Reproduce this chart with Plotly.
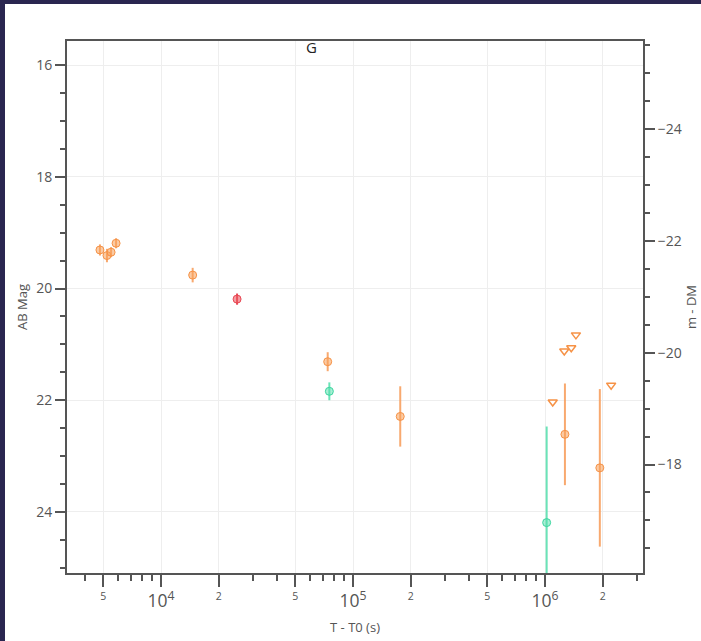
import plotly.graph_objects as go

# ---- data (T - T0 in seconds, AB magnitude, 1-sigma error) ----
orange_t = [4808, 5230, 5495, 5834, 14620, 73830, 176200, 1270000, 1930000]
orange_mag = [19.31, 19.41, 19.35, 19.19, 19.76, 21.31, 22.29, 22.61, 23.21]
orange_err = [0.10, 0.12, 0.09, 0.09, 0.13, 0.17, 0.54, 0.91, 1.41]

red_t = [24900]
red_mag = [20.19]
red_err = [0.10]

teal_t = [75300, 1020000]
teal_mag = [21.84, 24.19]
teal_err = [0.16, 1.72]

limit_t = [1097000, 1260000, 1370000, 1449000, 2210000]
limit_mag = [22.03, 21.12, 21.06, 20.83, 21.73]

DM = 41.15
title_text = "G"

W, H = 701, 641
L, R, T, B = 67, 58, 41, 68
pw, ph = W - L - R, H - T - B

ORANGE = "rgb(246,146,70)"
ORANGE_FILL = "rgba(248,160,90,0.55)"
ORANGE_ERR = "rgba(247,160,95,0.9)"
RED = "rgb(232,70,82)"
RED_FILL = "rgba(236,90,100,0.6)"
TEAL = "rgb(60,214,160)"
TEAL_FILL = "rgba(80,222,170,0.5)"
TEAL_ERR = "rgba(90,224,175,0.9)"

fig = go.Figure()

def pts(t, m, e, line, fill, errc):
    fig.add_trace(go.Scatter(
        x=t, y=m, mode="markers",
        error_y=dict(type="data", array=e, visible=True, color=errc,
                     thickness=2, width=0),
        marker=dict(symbol="circle", size=8, color=fill,
                    line=dict(color=line, width=1)),
        showlegend=False, cliponaxis=True))

pts(orange_t, orange_mag, orange_err, ORANGE, ORANGE_FILL, ORANGE_ERR)
pts(red_t, red_mag, red_err, RED, RED_FILL, RED)
pts(teal_t, teal_mag, teal_err, TEAL, TEAL_FILL, TEAL_ERR)

fig.add_trace(go.Scatter(
    x=limit_t, y=limit_mag, mode="markers",
    marker=dict(symbol="triangle-down-open", size=8, color=ORANGE,
                line=dict(width=1.5)),
    showlegend=False))

# invisible trace to activate the right axis
fig.add_trace(go.Scatter(x=[limit_t[0]], y=[limit_mag[0] - DM], yaxis="y2",
                         mode="markers", marker=dict(opacity=0),
                         showlegend=False, hoverinfo="skip"))

y_lo, y_hi = 25.092, 15.570
axis_font = dict(family="Open Sans, sans-serif", size=14, color="#555")
title_font = dict(family="Open Sans, sans-serif", size=13, color="#555")
LC = "#555"

fig.update_layout(
    width=W, height=H,
    margin=dict(l=L, r=R, t=T, b=B, pad=0, autoexpand=False),
    paper_bgcolor="#2a2650",
    plot_bgcolor="white",
    font=dict(family="Open Sans, sans-serif", size=12, color="#444"),
    xaxis=dict(
        type="log", range=[3.5104, 6.5104], automargin=False,
        dtick="D2", exponentformat="power",
        showline=True, linecolor=LC, linewidth=2, mirror=True,
        ticks="outside", ticklen=12, tickcolor=LC, tickwidth=1.5,
        showgrid=True, gridcolor="#eeeeee", gridwidth=1,
        zeroline=False, tickfont=axis_font,
        minor=dict(dtick="D1", ticks="outside", ticklen=6, tickcolor=LC,
                   tickwidth=1.5, showgrid=False),
        title=dict(text="T - T0 (s)", font=title_font, standoff=12),
    ),
    yaxis=dict(
        range=[y_lo, y_hi], dtick=2, tick0=0, automargin=False,
        showline=True, linecolor=LC, linewidth=2,
        ticks="outside", ticklen=10, tickcolor=LC, tickwidth=1.5,
        showgrid=True, gridcolor="#eeeeee", gridwidth=1,
        zeroline=False, tickfont=axis_font,
        minor=dict(dtick=0.5, ticks="outside", ticklen=5, tickcolor=LC,
                   tickwidth=1.5, showgrid=False),
        title=dict(text="AB Mag", font=title_font, standoff=6),
    ),
    yaxis2=dict(
        overlaying="y", side="right", automargin=False,
        range=[y_lo - DM, y_hi - DM], dtick=2, tick0=0,
        showline=True, linecolor=LC, linewidth=2,
        ticks="outside", ticklen=10, tickcolor=LC, tickwidth=1.5,
        showgrid=False, zeroline=False, tickfont=axis_font,
        minor=dict(dtick=0.5, ticks="outside", ticklen=5, tickcolor=LC,
                   tickwidth=1.5, showgrid=False),
        title=dict(text="m - DM", font=title_font, standoff=6),
    ),
    shapes=[dict(
        type="rect", xref="paper", yref="paper", layer="below",
        x0=(5 - L) / pw, x1=(W + 5 - L) / pw,
        y0=(T + ph - (H + 5)) / ph, y1=(T + ph - 4) / ph,
        fillcolor="white", line=dict(width=0))],
    annotations=[dict(
        text=title_text, xref="paper", yref="paper",
        x=(311 - L) / pw, y=(T + ph - 47) / ph,
        xanchor="center", yanchor="middle",
        showarrow=False, font=dict(size=15, color="#222"))],
)

fig.write_html("out.html")
